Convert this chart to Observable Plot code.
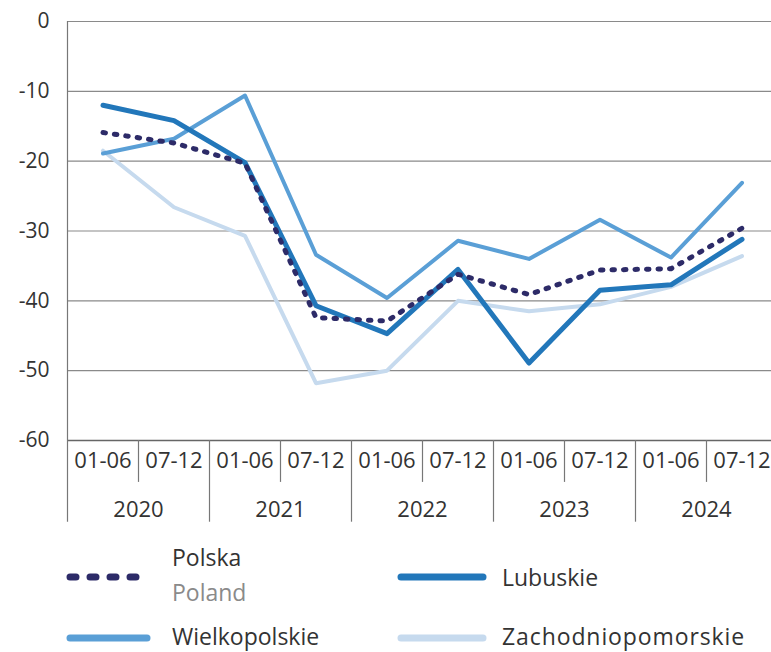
<!DOCTYPE html>
<html><head><meta charset="utf-8">
<script src="https://cdn.jsdelivr.net/npm/d3@7"></script>
<script src="https://cdn.jsdelivr.net/npm/@observablehq/plot@0.6"></script>
<style>
body{margin:0;background:#fff;font-family:"Open Sans",sans-serif;overflow:hidden;}
#chart svg{display:block;overflow:visible;}
#legend{position:relative;width:771px;height:122px;}
#legend .t{position:absolute;font-size:23px;line-height:24px;color:#333;white-space:nowrap;}
#legend svg{position:absolute;left:0;top:0;}
</style></head><body>
<div id="chart"></div>
<div id="legend"></div>
<script>
const periods = ["01-06","07-12","01-06","07-12","01-06","07-12","01-06","07-12","01-06","07-12"];
const years = ["2020","2021","2022","2023","2024"];
const yTicks = [0,-10,-20,-30,-40,-50,-60];
const polska = [-15.9,-17.4,-20.3,-42.4,-42.9,-36.2,-39.1,-35.6,-35.4,-29.6];
const lubuskie = [-12.0,-14.2,-20.2,-40.7,-44.7,-35.5,-48.9,-38.5,-37.7,-31.2];
const wielkopolskie = [-18.9,-16.8,-10.6,-33.4,-39.6,-31.4,-34.0,-28.4,-33.8,-23.1];
const zachodniopomorskie = [-18.5,-26.6,-30.7,-51.8,-50.0,-40.0,-41.5,-40.5,-38.0,-33.6];
const seriesNames = ["Zachodniopomorskie","Wielkopolskie","Lubuskie","Polska"];
const colors = {Zachodniopomorskie:"#c6daee", Wielkopolskie:"#5a9fd6", Lubuskie:"#2277ba", Polska:"#2d2b68"};

const valuesByName = {Zachodniopomorskie:zachodniopomorskie, Wielkopolskie:wielkopolskie, Lubuskie:lubuskie, Polska:polska};
const rows = seriesNames.flatMap(n => valuesByName[n].map((v,i) => ({name:n, i, v})));
const halfData = periods.map((p,i) => ({i, p}));
const yearData = years.map((y,k) => ({x: 2*k + 0.5, y}));
const shortDiv = [0.5,2.5,4.5,6.5,8.5];
const longDiv = [1.5,3.5,5.5,7.5,9.5];

const lineMark = (n, opts) => Plot.line(rows.filter(d => d.name === n), {x:"i", y:"v", stroke: colors[n], strokeLinejoin:"round", ...opts});

const chart = Plot.plot({
  width: 771, height: 530,
  marginLeft: 67, marginRight: 0, marginTop: 21, marginBottom: 90,
  style: {fontFamily: "'Open Sans', sans-serif", color:"#333", background:"#fff"},
  x: {type:"linear", domain:[-0.5, 9.5], range:[67, 777], axis:null},
  y: {domain:[-60, 0], range:[440, 21], axis:null},
  marks: [
    Plot.gridY(yTicks, {stroke:"#8a8a8a", strokeOpacity:1, strokeWidth:1.2}),
    Plot.axisY(yTicks, {tickSize:0, tickPadding:18, fontSize:21, tickFormat: d => String(d), label:null, fill:"#333"}),
    Plot.ruleY([-60], {stroke:"#666", strokeWidth:1.6}),
    Plot.ruleX([-0.5], {y1:0, y2:-71.7, stroke:"#777", strokeWidth:1.2}),
    Plot.ruleX(shortDiv, {x: d => d, y1:-60, y2:-66, stroke:"#777", strokeWidth:1.2}),
    Plot.ruleX(longDiv, {x: d => d, y1:-60, y2:-71.7, stroke:"#777", strokeWidth:1.2}),
    Plot.text(halfData, {x:"i", y:() => -63.0, text:"p", fontSize:22, fill:"#333", textAnchor:"middle"}),
    Plot.text(yearData, {x:"x", y:() => -69.9, text:"y", fontSize:22, fill:"#333", textAnchor:"middle"}),
    lineMark("Zachodniopomorskie", {strokeWidth:4}),
    lineMark("Wielkopolskie", {strokeWidth:4}),
    lineMark("Lubuskie", {strokeWidth:5}),
    lineMark("Polska", {strokeWidth:5, strokeDasharray:"2.5,9", strokeLinecap:"round"})
  ]
});
document.getElementById("chart").appendChild(chart);

// Legend
const legend = document.getElementById("legend");
const ns = "http://www.w3.org/2000/svg";
const lsvg = document.createElementNS(ns, "svg");
lsvg.setAttribute("width", 771); lsvg.setAttribute("height", 122);
const legendItems = [
  {name:"Polska", x1:70, x2:147, y:47, dash:"6,14", w:7},
  {name:"Lubuskie", x1:401, x2:483, y:47, dash:null, w:7},
  {name:"Wielkopolskie", x1:70, x2:147, y:108, dash:null, w:7},
  {name:"Zachodniopomorskie", x1:401, x2:483, y:108, dash:null, w:7}
];
legendItems.forEach(it => {
  const l = document.createElementNS(ns, "line");
  l.setAttribute("x1", it.x1); l.setAttribute("x2", it.x2);
  l.setAttribute("y1", it.y); l.setAttribute("y2", it.y);
  l.setAttribute("stroke", colors[it.name]);
  l.setAttribute("stroke-width", it.w);
  l.setAttribute("stroke-linecap", "round");
  if (it.dash) l.setAttribute("stroke-dasharray", it.dash);
  lsvg.appendChild(l);
});
legend.appendChild(lsvg);
const texts = [
  {t:"Polska", x:172, y:15, c:"#333"},
  {t:"Poland", x:172, y:50, c:"#8a8a8a"},
  {t:"Lubuskie", x:502, y:35, c:"#333"},
  {t:"Wielkopolskie", x:172, y:94, c:"#333"},
  {t:"Zachodniopomorskie", x:502, y:94, c:"#333", ls:"0.9px"}
];
texts.forEach(o => {
  const d = document.createElement("div");
  d.className = "t"; d.textContent = o.t;
  d.style.left = o.x + "px"; d.style.top = o.y + "px"; d.style.color = o.c;
  if (o.ls) d.style.letterSpacing = o.ls;
  legend.appendChild(d);
});
</script>
</body></html>
